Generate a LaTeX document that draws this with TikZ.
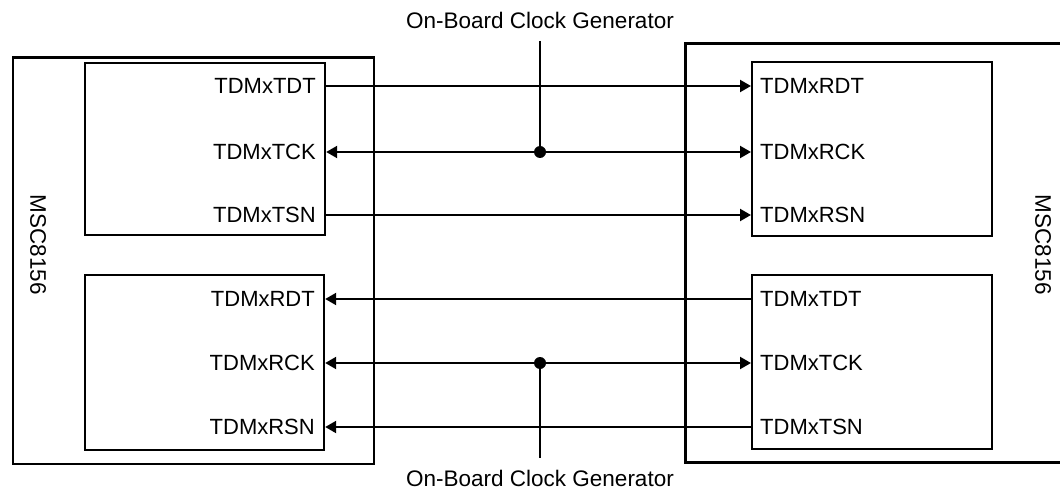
\documentclass[tikz,border=0pt]{standalone}
\usepackage{fontspec}
\setmainfont{Liberation Sans}
\usetikzlibrary{arrows.meta}
\tikzset{
  box/.style={draw, line width=2.2pt, inner sep=0pt, anchor=north west},
  sig/.style={font=\fontsize{22}{26}\selectfont, inner sep=0pt},
  lbl/.style={font=\fontsize{22.5}{26}\selectfont, inner sep=0pt},
  wire/.style={line width=2.2pt},
  tip/.style={-{Triangle[length=11pt,width=12pt]}},
  tips/.style={{Triangle[length=11pt,width=12pt]}-{Triangle[length=11pt,width=12pt]}},
  jdot/.style={circle, fill=black, inner sep=0pt, minimum size=12pt}
}
\begin{document}
\begin{tikzpicture}[x=1pt,y=-1pt]
\useasboundingbox (0,0) rectangle (1060,497);
\clip (0,0) rectangle (1060,497);
% outer chips
\node[box, minimum width=361pt, minimum height=406.5pt] (lo) at (11.5,56.5) {};
\node[box, line width=3.2pt, minimum width=400pt, minimum height=419pt] (ro) at (684,42) {};
% inner blocks
\node[box, minimum width=240.5pt, minimum height=172pt] (lt) at (83.5,62) {};
\node[box, minimum width=239.5pt, minimum height=175pt] (lb) at (83.5,274) {};
\node[box, minimum width=240pt, minimum height=174pt] (rt) at (751,61) {};
\node[box, minimum width=240pt, minimum height=174pt] (rb) at (751,274) {};
% chip labels
\node[lbl, rotate=-90] (ln) at (38,245) {MSC8156};
\node[lbl, rotate=-90] (rn) at (1043,245) {MSC8156};
% signal labels, left
\node[sig, anchor=east] (l1) at (316,86) {TDMxTDT};
\node[sig, anchor=east] (l2) at (316,152) {TDMxTCK};
\node[sig, anchor=east] (l3) at (316,215) {TDMxTSN};
\node[sig, anchor=east] (l4) at (315,299) {TDMxRDT};
\node[sig, anchor=east] (l5) at (315,363) {TDMxRCK};
\node[sig, anchor=east] (l6) at (315,427) {TDMxRSN};
% signal labels, right
\node[sig, anchor=west] (r1) at (760,86) {TDMxRDT};
\node[sig, anchor=west] (r2) at (760,152) {TDMxRCK};
\node[sig, anchor=west] (r3) at (760,215) {TDMxRSN};
\node[sig, anchor=west] (r4) at (760,299) {TDMxTDT};
\node[sig, anchor=west] (r5) at (760,363) {TDMxTCK};
\node[sig, anchor=west] (r6) at (760,427) {TDMxTSN};
% clock generators
\node[lbl] (cgt) at (540,20) {On-Board Clock Generator};
\node[lbl] (cgb) at (540,478) {On-Board Clock Generator};
\coordinate (ct) at (540,41);
\coordinate (cb) at (540,458);
\node[jdot] (jt) at (540,152) {};
\node[jdot] (jb) at (540,363) {};
% wires
\draw[wire, tip] (lt.east |- l1) -- (rt.west |- r1);
\draw[wire, tips] (lt.east |- l2) -- (rt.west |- r2);
\draw[wire, tip] (lt.east |- l3) -- (rt.west |- r3);
\draw[wire, tip] (rb.west |- r4) -- (lb.east |- l4);
\draw[wire, tips] (lb.east |- l5) -- (rb.west |- r5);
\draw[wire, tip] (rb.west |- r6) -- (lb.east |- l6);
\draw[wire] (ct) -- (jt.center);
\draw[wire] (jb.center) -- (cb);
\end{tikzpicture}
\end{document}
